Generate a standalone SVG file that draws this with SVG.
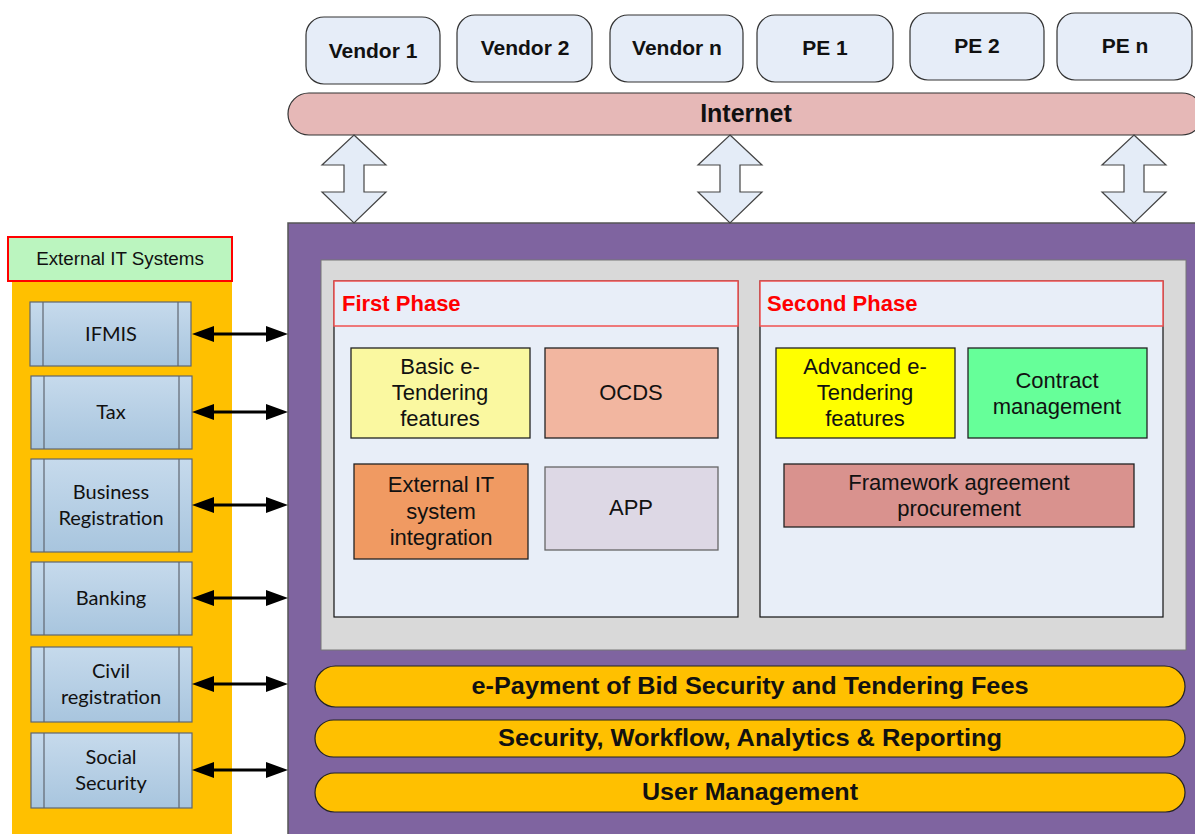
<svg xmlns="http://www.w3.org/2000/svg" width="1195" height="834" viewBox="0 0 1195 834">
<style>
.vend{fill:#E6EDF8;stroke:#333;stroke-width:1.2}
.vt{font-family:"Liberation Sans",Arial,sans-serif;font-weight:bold;font-size:21px;fill:#111;text-anchor:middle}
.it{font-family:"Liberation Sans",Arial,sans-serif;font-weight:bold;font-size:25px;fill:#111;text-anchor:middle}
.bt{font-family:"Liberation Sans",Arial,sans-serif;font-size:22px;fill:#111;text-anchor:middle}
.ph{font-family:"Liberation Sans",Arial,sans-serif;font-weight:bold;font-size:22px;fill:#F00}
.sys{fill:url(#sysg);stroke:#5F6670;stroke-width:1.2}
.sl{stroke:#5F6670;stroke-width:1.2}
.st{font-family:Lato,"Open Sans",sans-serif;font-size:20px;fill:#111;text-anchor:middle}
.pill{fill:#FFC000;stroke:#222;stroke-width:1.2}
.pt{font-family:"Liberation Sans",Arial,sans-serif;font-weight:bold;font-size:24.5px;fill:#111;text-anchor:middle}
.blk{fill:#E4ECF7;stroke:#444;stroke-width:1.2}
.conn{stroke:#000;stroke-width:3;fill:none}
.feat{stroke:#222;stroke-width:1.3}
</style>
<defs>
<linearGradient id="sysg" x1="0" y1="0" x2="0" y2="1">
<stop offset="0" stop-color="#C6DAEC"/>
<stop offset="1" stop-color="#A8C5DE"/>
</linearGradient>
<marker id="ah" markerUnits="userSpaceOnUse" markerWidth="22" markerHeight="16" refX="8" refY="8" orient="auto-start-reverse">
<path d="M0,0 L22,8 L0,16 z" fill="#000"/>
</marker>
</defs>

<!-- Top actors -->
<g id="vendor1"><rect class="vend" x="306" y="17" width="134" height="67" rx="18"/><text class="vt" x="373" y="58">Vendor 1</text></g>
<g id="vendor2"><rect class="vend" x="457" y="15" width="135" height="67" rx="18"/><text class="vt" x="525" y="55">Vendor 2</text></g>
<g id="vendorn"><rect class="vend" x="610" y="15" width="133" height="67" rx="18"/><text class="vt" x="677" y="55">Vendor n</text></g>
<g id="pe1"><rect class="vend" x="757" y="15" width="136" height="67" rx="18"/><text class="vt" x="825" y="55">PE 1</text></g>
<g id="pe2"><rect class="vend" x="910" y="13" width="134" height="67" rx="18"/><text class="vt" x="977" y="53">PE 2</text></g>
<g id="pen"><rect class="vend" x="1057" y="13" width="135" height="67" rx="18"/><text class="vt" x="1125" y="53">PE n</text></g>

<g id="internet"><rect x="288" y="93" width="915" height="42" rx="21" fill="#E6B8B7" stroke="#333" stroke-width="1.2"/><text class="it" x="746" y="122">Internet</text></g>

<!-- Main platform -->
<g id="platform">
<rect x="288" y="223" width="915" height="620" fill="#7F64A0" stroke="#555" stroke-width="1.5"/>
<rect x="321" y="260" width="865" height="390" fill="#D9D9D9" stroke="#777" stroke-width="1"/>
</g>

<g id="firstphase">
<rect x="334" y="281" width="404" height="336" fill="#E8EEF8" stroke="#111" stroke-width="1.2"/>
<rect x="334" y="281" width="404" height="45" fill="#E8EEF8" stroke="#F05050" stroke-width="1.5"/>
<text class="ph" x="342" y="311">First Phase</text>
</g>
<g id="secondphase">
<rect x="760" y="281" width="403" height="336" fill="#E8EEF8" stroke="#111" stroke-width="1.2"/>
<rect x="760" y="281" width="403" height="45" fill="#E8EEF8" stroke="#F05050" stroke-width="1.5"/>
<text class="ph" x="767" y="311">Second Phase</text>
</g>

<g id="basic"><rect class="feat" x="351" y="348" width="179" height="90" fill="#FAF8A0"/>
<text class="bt" x="440" y="374">Basic e-</text><text class="bt" x="440" y="400">Tendering</text><text class="bt" x="440" y="426">features</text></g>
<g id="ocds"><rect class="feat" x="545" y="348" width="173" height="90" fill="#F2B6A0"/><text class="bt" x="631" y="400">OCDS</text></g>
<g id="extint"><rect class="feat" x="354" y="464" width="174" height="95" fill="#F09A62"/>
<text class="bt" x="441" y="492">External IT</text><text class="bt" x="441" y="519">system</text><text class="bt" x="441" y="545">integration</text></g>
<g id="app"><rect x="545" y="467" width="173" height="83" fill="#DDD8E5" stroke="#666" stroke-width="1.3"/><text class="bt" x="631" y="515">APP</text></g>

<g id="advanced"><rect class="feat" x="776" y="348" width="179" height="90" fill="#FFFF00"/>
<text class="bt" x="865" y="374">Advanced e-</text><text class="bt" x="865" y="400">Tendering</text><text class="bt" x="865" y="426">features</text></g>
<g id="contract"><rect class="feat" x="968" y="348" width="179" height="90" fill="#66FF99"/>
<text class="bt" x="1057" y="388">Contract</text><text class="bt" x="1057" y="414">management</text></g>
<g id="framework"><rect class="feat" x="784" y="464" width="350" height="63" fill="#D9928E"/>
<text class="bt" x="959" y="490">Framework agreement</text><text class="bt" x="959" y="516">procurement</text></g>

<g id="epayment"><rect class="pill" x="315" y="666" width="870" height="41" rx="20.5"/><text class="pt" x="750" y="694" textLength="557" lengthAdjust="spacingAndGlyphs">e-Payment of Bid Security and Tendering Fees</text></g>
<g id="security"><rect class="pill" x="315" y="720" width="870" height="37" rx="18.5"/><text class="pt" x="750" y="746" textLength="504" lengthAdjust="spacingAndGlyphs">Security, Workflow, Analytics &amp; Reporting</text></g>
<g id="usermgmt"><rect class="pill" x="315" y="773" width="870" height="39" rx="19.5"/><text class="pt" x="750" y="800" textLength="216" lengthAdjust="spacingAndGlyphs">User Management</text></g>

<!-- External systems -->
<g id="external">
<rect x="12" y="281" width="220" height="560" fill="#FFC000"/>
<rect x="8" y="237" width="224" height="44" fill="#BBF5BF" stroke="#F00" stroke-width="2"/>
<text x="120" y="265" font-family="'Liberation Sans',Arial,sans-serif" font-size="18.8" fill="#111" text-anchor="middle">External IT Systems</text>
</g>
<g id="ifmis"><rect class="sys" x="30" y="302" width="161" height="64"/><line class="sl" x1="43" y1="302" x2="43" y2="366"/><line class="sl" x1="178" y1="302" x2="178" y2="366"/><text class="st" x="111" y="341">IFMIS</text></g>
<g id="tax"><rect class="sys" x="31" y="376" width="161" height="73"/><line class="sl" x1="44" y1="376" x2="44" y2="449"/><line class="sl" x1="179" y1="376" x2="179" y2="449"/><text class="st" x="111" y="419">Tax</text></g>
<g id="business"><rect class="sys" x="31" y="459" width="161" height="93"/><line class="sl" x1="44" y1="459" x2="44" y2="552"/><line class="sl" x1="179" y1="459" x2="179" y2="552"/><text class="st" x="111" y="499">Business</text><text class="st" x="111" y="525">Registration</text></g>
<g id="banking"><rect class="sys" x="31" y="562" width="161" height="73"/><line class="sl" x1="44" y1="562" x2="44" y2="635"/><line class="sl" x1="179" y1="562" x2="179" y2="635"/><text class="st" x="111" y="605">Banking</text></g>
<g id="civil"><rect class="sys" x="31" y="647" width="161" height="75"/><line class="sl" x1="44" y1="647" x2="44" y2="722"/><line class="sl" x1="179" y1="647" x2="179" y2="722"/><text class="st" x="111" y="678">Civil</text><text class="st" x="111" y="704">registration</text></g>
<g id="social"><rect class="sys" x="31" y="733" width="161" height="75"/><line class="sl" x1="44" y1="733" x2="44" y2="808"/><line class="sl" x1="179" y1="733" x2="179" y2="808"/><text class="st" x="111" y="764">Social</text><text class="st" x="111" y="790">Security</text></g>

<!-- Connectors -->
<g id="connectors">
<path class="blk" d="M354,135 L386,165 L364,165 L364,192 L386,192 L354,223 L322,192 L344,192 L344,165 L322,165 Z"/>
<path class="blk" d="M730,135 L762,165 L740,165 L740,192 L762,192 L730,223 L698,192 L720,192 L720,165 L698,165 Z"/>
<path class="blk" d="M1134,135 L1166,165 L1144,165 L1144,192 L1166,192 L1134,223 L1102,192 L1124,192 L1124,165 L1102,165 Z"/>
<line class="conn" x1="206" y1="334" x2="274" y2="334" marker-start="url(#ah)" marker-end="url(#ah)"/>
<line class="conn" x1="206" y1="412" x2="274" y2="412" marker-start="url(#ah)" marker-end="url(#ah)"/>
<line class="conn" x1="206" y1="505" x2="274" y2="505" marker-start="url(#ah)" marker-end="url(#ah)"/>
<line class="conn" x1="206" y1="598" x2="274" y2="598" marker-start="url(#ah)" marker-end="url(#ah)"/>
<line class="conn" x1="206" y1="684" x2="274" y2="684" marker-start="url(#ah)" marker-end="url(#ah)"/>
<line class="conn" x1="206" y1="770" x2="274" y2="770" marker-start="url(#ah)" marker-end="url(#ah)"/>
</g>
</svg>
